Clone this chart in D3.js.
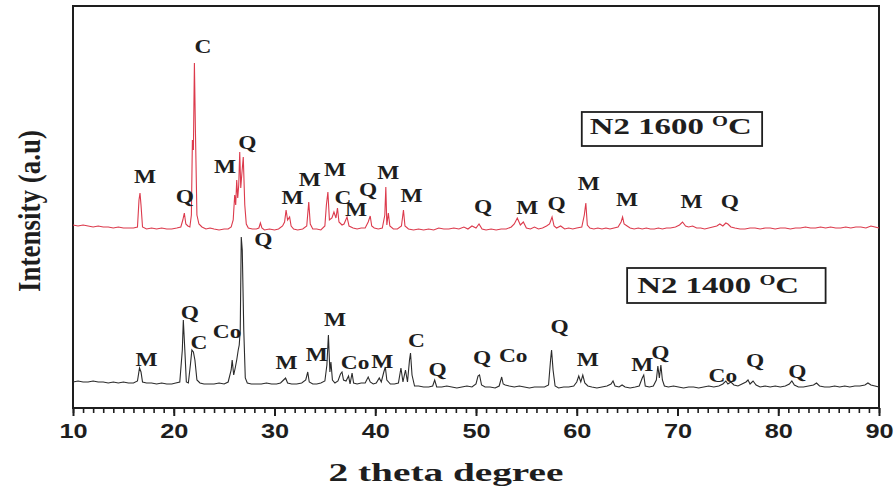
<!DOCTYPE html>
<html>
<head>
<meta charset="UTF-8">
<style>
  body { margin: 0; background: white; }
  svg { display: block; background: white; }
  .serif { font-family: "Liberation Serif", "Times New Roman", serif; font-weight: bold; fill: #1e1e1e; }
  .axis text { font-family: "Liberation Sans", Arial, sans-serif; font-weight: bold; font-size: 19.5px; fill: #1e1e1e; }
  .axis line { stroke: #1e1e1e; }
  .axis path { display: none; }
</style>
</head>
<body>
<svg></svg>
<script src="https://d3js.org/d3.v7.min.js"></script>
<script>

// 2 theta (deg), intensity (a.u.)
let pattern1600 = [
  [10.0,183],[10.5,182],[11.0,183],[11.5,182],[12.0,181],[12.5,182],[13.0,181],[13.5,181],[14.0,180],[14.5,181],
  [15.0,180],[15.5,180],[16.0,180],[16.4,181],[16.55,208],[16.65,215],[16.75,203],[16.9,181],[17.3,179],[17.8,180],
  [18.3,179],[18.8,180],[19.3,179],[19.8,179],[20.3,180],[20.7,181],[20.9,188],[21.05,195],[21.2,184],[21.4,182],
  [21.6,181],[21.75,193],[21.85,268],[21.95,258],[22.05,345],[22.15,278],[22.3,193],[22.5,184],[22.8,181],[23.2,179],
  [23.6,180],[24.0,179],[24.5,178],[25.0,179],[25.4,179],[25.7,181],[25.9,188],[26.05,213],[26.15,203],[26.25,228],
  [26.35,210],[26.45,223],[26.55,256],[26.65,220],[26.75,233],[26.9,251],[27.05,203],[27.2,184],[27.4,180],[27.8,179],
  [28.2,179],[28.45,180],[28.6,185],[28.75,180],[29.0,178],[29.5,179],[30.0,178],[30.4,179],[30.8,182],[31.0,186],
  [31.15,198],[31.3,188],[31.5,191],[31.65,182],[31.9,179],[32.3,178],[32.8,179],[33.2,182],[33.4,206],[33.55,184],
  [33.8,179],[34.2,179],[34.6,178],[35.0,182],[35.15,203],[35.3,216],[35.45,188],[35.7,190],[35.9,196],[36.1,190],
  [36.25,200],[36.4,186],[36.7,183],[36.9,184],[37.2,191],[37.4,182],[37.8,180],[38.2,179],[38.6,180],[39.0,180],
  [39.3,186],[39.5,192],[39.65,182],[39.9,180],[40.3,179],[40.7,180],[40.95,193],[41.05,221],[41.15,183],[41.3,195],
  [41.45,182],[41.8,179],[42.2,179],[42.6,182],[42.8,198],[42.95,182],[43.3,179],[43.8,178],[44.3,179],[44.8,178],
  [45.3,179],[45.8,178],[46.3,180],[46.8,179],[47.3,179],[47.8,180],[48.3,179],[48.8,181],[49.2,179],[49.6,182],
  [50.0,180],[50.3,184],[50.6,179],[51.0,178],[51.5,179],[52.0,178],[52.5,179],[53.0,179],[53.5,181],[53.8,184],
  [54.1,190],[54.4,183],[54.7,186],[55.0,180],[55.4,179],[55.8,181],[56.2,179],[56.6,180],[57.0,182],[57.3,184],
  [57.55,191],[57.75,182],[58.0,180],[58.4,182],[58.8,179],[59.2,180],[59.6,179],[60.0,180],[60.5,181],[60.75,193],
  [60.9,205],[61.05,183],[61.3,180],[61.7,179],[62.1,180],[62.5,179],[62.9,180],[63.3,179],[63.7,180],[64.1,181],
  [64.4,186],[64.55,191],[64.7,184],[65.0,182],[65.3,180],[65.7,179],[66.1,180],[66.5,179],[66.9,180],[67.3,179],
  [67.7,179],[68.1,180],[68.5,179],[68.9,180],[69.3,180],[69.8,181],[70.2,183],[70.5,186],[70.8,182],[71.1,181],
  [71.5,182],[71.9,180],[72.3,180],[72.7,179],[73.1,180],[73.5,181],[73.9,182],[74.2,184],[74.5,182],[74.8,185],
  [75.0,184],[75.3,181],[75.7,180],[76.2,179],[76.7,179],[77.2,180],[77.7,180],[78.2,179],[78.7,180],[79.2,180],
  [79.7,179],[80.2,180],[80.7,180],[81.2,179],[81.7,180],[82.2,180],[82.7,181],[83.2,180],[83.7,180],[84.2,181],
  [84.7,180],[85.2,181],[85.7,180],[86.2,180],[86.7,181],[87.2,180],[87.7,181],[88.2,181],[88.7,180],[89.2,182],
  [89.6,181],[90.0,180]
];

let pattern1400 = [
  [10.0,26],[10.5,27],[11.0,26],[11.5,26],[12.0,27],[12.5,26],[13.0,26],[13.5,25],[14.0,26],[14.5,25],
  [15.0,26],[15.5,25],[16.0,25],[16.4,27],[16.6,40],[16.75,36],[16.9,26],[17.3,25],[17.8,25],[18.3,24],
  [18.8,25],[19.3,24],[19.8,24],[20.2,25],[20.6,26],[20.85,58],[20.95,88],[21.1,58],[21.25,26],[21.45,25],
  [21.65,43],[21.8,58],[21.95,56],[22.1,48],[22.3,28],[22.6,25],[23.0,24],[23.5,24],[24.0,24],[24.5,25],
  [25.0,24],[25.4,26],[25.7,38],[25.8,48],[25.95,33],[26.1,40],[26.25,48],[26.4,58],[26.5,63],[26.6,78],
  [26.7,171],[26.8,158],[26.95,78],[27.1,30],[27.3,25],[27.7,24],[28.2,24],[28.7,24],[29.2,25],[29.7,24],
  [30.2,24],[30.6,25],[30.9,28],[31.1,30],[31.3,25],[31.7,24],[32.2,24],[32.7,25],[33.1,28],[33.3,36],
  [33.45,26],[33.8,24],[34.2,24],[34.6,25],[35.0,27],[35.2,43],[35.35,73],[35.5,36],[35.6,46],[35.75,28],
  [36.0,25],[36.3,27],[36.55,34],[36.7,36],[36.85,28],[37.1,27],[37.35,32],[37.5,24],[37.7,35],[37.85,25],
  [38.2,24],[38.6,25],[39.0,25],[39.3,31],[39.5,26],[39.8,24],[40.1,25],[40.4,30],[40.6,26],[40.85,36],
  [41.0,41],[41.15,28],[41.5,24],[41.9,24],[42.3,25],[42.55,40],[42.75,26],[43.0,38],[43.2,26],[43.4,48],
  [43.5,55],[43.65,33],[43.9,22],[44.3,22],[44.8,21],[45.3,21],[45.7,22],[45.9,28],[46.1,21],[46.6,21],
  [47.1,22],[47.6,21],[48.1,20],[48.6,21],[49.1,22],[49.6,21],[50.0,24],[50.2,32],[50.35,33],[50.55,23],
  [50.9,21],[51.4,21],[51.9,20],[52.3,22],[52.55,31],[52.7,24],[52.9,23],[53.3,22],[53.8,21],[54.3,22],
  [54.8,21],[55.3,20],[55.8,21],[56.3,21],[56.8,21],[57.2,23],[57.4,48],[57.5,58],[57.65,38],[57.85,22],
  [58.2,20],[58.7,21],[59.2,21],[59.7,22],[60.0,26],[60.2,32],[60.4,26],[60.6,33],[60.8,25],[61.1,22],
  [61.5,21],[62.0,20],[62.5,21],[63.0,22],[63.4,24],[63.6,27],[63.8,22],[64.2,21],[64.5,23],[64.8,21],
  [65.3,20],[65.8,21],[66.2,22],[66.5,30],[66.65,33],[66.8,22],[67.2,21],[67.6,22],[67.9,28],[68.05,42],
  [68.2,30],[68.35,43],[68.5,28],[68.7,22],[69.1,21],[69.6,22],[70.1,21],[70.6,20],[71.1,21],[71.6,21],
  [72.1,20],[72.6,21],[73.1,22],[73.6,21],[74.1,22],[74.5,24],[74.8,27],[75.0,24],[75.3,26],[75.6,23],
  [76.0,22],[76.4,24],[76.8,26],[77.0,28],[77.2,24],[77.5,27],[77.8,23],[78.2,21],[78.7,22],[79.2,21],
  [79.7,22],[80.2,21],[80.7,22],[81.1,24],[81.35,27],[81.6,23],[82.0,21],[82.5,21],[83.0,22],[83.5,23],
  [83.8,25],[84.1,22],[84.6,21],[85.1,21],[85.6,22],[86.1,21],[86.6,22],[87.1,21],[87.6,22],[88.1,22],
  [88.6,23],[88.9,25],[89.2,23],[89.6,22],[90.0,21]
];

// phase labels: [text, 2theta, intensity]
let labels1600 = [
  ["M",17.15,231],["Q",21.1,211],["C",22.9,361],["M",25.1,241],["Q",27.3,265],["M",31.8,210],
  ["M",33.5,228],["M",36.0,238],["C",36.8,210],["M",38.1,198],["Q",39.3,218],["M",41.3,235],
  ["M",43.6,212],["Q",50.7,201],["M",55.1,200],["Q",58.0,204],["M",61.2,224],["M",65.0,208],
  ["M",71.4,206],["Q",75.2,206]
];

let labels1400 = [
  ["M",17.3,48],["Q",21.6,95],["C",22.5,65],["Co",25.3,76],["Q",28.9,168],["M",31.2,45],
  ["M",34.2,53],["M",36.0,88],["Co",38.0,45],["M",40.7,46],["C",44.1,67],["Q",46.2,38],
  ["Q",50.6,50],["Co",53.7,52],["Q",58.3,81],["M",61.1,48],["M",66.5,43],["Q",68.3,55],
  ["Co",74.5,32],["Q",77.7,47],["Q",81.9,36]
];

let xTicks = [10, 20, 30, 40, 50, 60, 70, 80, 90];
let sampleNames = ["N2 1600", "N2 1400"];

let width = 896, height = 491;
let stretch = 1.3;   // the figure's lettering is wide

let svg = d3.select("svg").attr("width", width).attr("height", height);

let x = d3.scaleLinear().domain([10, 90]).range([73, 879]);
let y = d3.scaleLinear().domain([0, 402]).range([408, 6]);

let line = d3.line().x(d => x(d[0])).y(d => y(d[1]));

// minor ticks
svg.append("g")
    .attr("class", "axis")
    .attr("transform", `translate(0,${y(0)})`)
    .call(d3.axisBottom(x).tickValues(d3.range(10, 91, 1)).tickSize(5).tickFormat(""))
    .selectAll("line").attr("stroke-width", 1.6);

// major ticks + labels
let xAxis = svg.append("g")
    .attr("class", "axis")
    .attr("transform", `translate(0,${y(0)})`)
    .call(d3.axisBottom(x).tickValues(xTicks).tickSize(8).tickPadding(8));
xAxis.selectAll("line").attr("stroke-width", 2);
xAxis.selectAll("text").attr("transform", `scale(${stretch},1)`);

// frame
svg.append("rect")
    .attr("x", x(10)).attr("y", y(402))
    .attr("width", x(90) - x(10)).attr("height", y(0) - y(402))
    .attr("fill", "none").attr("stroke", "#1e1e1e").attr("stroke-width", 2);

// patterns
svg.append("path").datum(pattern1400)
    .attr("d", line).attr("fill", "none")
    .attr("stroke", "#2b2b2b").attr("stroke-width", 1.1);

svg.append("path").datum(pattern1600)
    .attr("d", line).attr("fill", "none")
    .attr("stroke", "#dc3a4c").attr("stroke-width", 1.1);

// phase labels
function drawLabels(list) {
  svg.append("g").selectAll("text")
    .data(list).enter().append("text")
    .attr("class", "serif")
    .attr("font-size", 18)
    .attr("text-anchor", "middle")
    .attr("dy", "0.35em")
    .attr("transform", d => `translate(${x(d[1])},${y(d[2])}) scale(${stretch},1)`)
    .text(d => d[0]);
}
drawLabels(labels1600);
drawLabels(labels1400);

// sample boxes
let boxes = [
  { name: sampleNames[0], x0: 60.5, x1: 78.4, top: 296, bottom: 262, tx: 61.3, ty: 274 },
  { name: sampleNames[1], x0: 65.0, x1: 84.7, top: 140, bottom: 105, tx: 66.0, ty: 115 }
];

boxes.forEach(b => {
  svg.append("rect")
    .attr("x", x(b.x0)).attr("y", y(b.top))
    .attr("width", x(b.x1) - x(b.x0)).attr("height", y(b.bottom) - y(b.top))
    .attr("fill", "white").attr("stroke", "#1e1e1e").attr("stroke-width", 1.8);

  let t = svg.append("text")
    .attr("class", "serif")
    .attr("font-size", 24)
    .style("white-space", "pre");
  t.append("tspan").text(b.name + " ");
  t.append("tspan").attr("font-size", 15).attr("dy", -8).text("O");
  t.append("tspan").attr("dy", 8).text("C");
  let w = t.node().getBBox().width;
  t.attr("transform", `translate(${x(b.tx)},${y(b.ty)}) scale(${162 / w},1)`);
});

// axis titles
let xt = svg.append("text")
    .attr("class", "serif")
    .attr("font-size", 25)
    .attr("text-anchor", "middle")
    .text("2 theta degree");
let xw = xt.node().getComputedTextLength();
xt.attr("transform", `translate(446,481) scale(${235 / xw},1)`);

let yt = svg.append("text")
    .attr("class", "serif")
    .attr("font-size", 24)
    .attr("text-anchor", "middle")
    .attr("dy", "0.32em")
    .text("Intensity (a.u)");
let yw = yt.node().getComputedTextLength();
yt.attr("transform", `translate(30,211) rotate(-90) scale(${162 / yw},${stretch})`);

</script>
</body>
</html>
